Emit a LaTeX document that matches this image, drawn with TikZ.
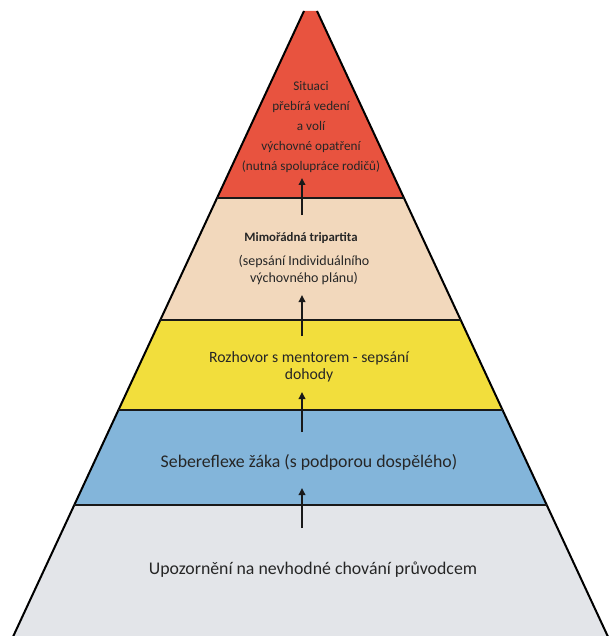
\documentclass[tikz,border=0pt]{standalone}
\usepackage{fontspec}
\setmainfont{Carlito}
\usetikzlibrary{arrows.meta}
\definecolor{cred}{HTML}{E8533F}
\definecolor{ctan}{HTML}{F2D8BC}
\definecolor{cyel}{HTML}{F2DE3C}
\definecolor{cblue}{HTML}{83B5DA}
\definecolor{cgray}{HTML}{E3E5E9}
\definecolor{txt}{HTML}{262626}
\begin{document}
\begin{tikzpicture}[x=1pt,y=-1pt,
  side/.style={draw=black,line width=2pt,line cap=butt},
  sep/.style={draw=black!90,line width=2.5pt},
  arr/.style={draw=black!90,line width=1.8pt,-{Triangle[length=7pt,width=6.5pt]}},
  lbl/.style={text=txt,inner sep=0pt,align=center}]
\useasboundingbox (0,0) rectangle (608,636);
\fill[white] (0,0) rectangle (608,636);
% bands
\fill[cred]  (304,11) -- (317,11) -- (404,198) -- (217,198) -- cycle;
\fill[ctan]  (217,198) -- (404,198) -- (460.7,320) -- (160.3,320) -- cycle;
\fill[cyel]  (160.3,320) -- (460.7,320) -- (502.6,410) -- (118.4,410) -- cycle;
\fill[cblue] (118.4,410) -- (502.6,410) -- (546.8,505) -- (74.2,505) -- cycle;
\fill[cgray] (74.2,505) -- (546.8,505) -- (609.5,640) -- (11.5,640) -- cycle;
% outline
\draw[side] (304,11) -- (11.5,640);
\draw[side] (317,11) -- (609.5,640);
\draw[sep] (217,198) -- (404,198);
\draw[sep] (160.3,320) -- (460.7,320);
\draw[sep] (118.4,410) -- (502.6,410);
\draw[sep] (74.2,505) -- (546.8,505);
% arrows
\coordinate (a1s) at (302,215); \coordinate (a1e) at (302,178);
\coordinate (a2s) at (302,336); \coordinate (a2e) at (302,295);
\coordinate (a3s) at (302,432); \coordinate (a3e) at (302,392);
\coordinate (a4s) at (302,528); \coordinate (a4e) at (302,488);
\draw[arr] (a1s) -- (a1e);
\draw[arr] (a2s) -- (a2e);
\draw[arr] (a3s) -- (a3e);
\draw[arr] (a4s) -- (a4e);
% texts
\node[lbl,font=\fontsize{13.2}{20}\selectfont] (t5) at (311,127)
  {Situaci\\přebírá vedení\\a volí\\výchovné opatření\\(nutná spolupráce rodičů)};
\node[lbl,font=\bfseries\fontsize{12.8}{15}\selectfont] (t4a) at (301,238) {Mimořádná tripartita};
\node[lbl,font=\fontsize{14}{16.5}\selectfont] (t4b) at (304,270)
  {(sepsání Individuálního\\výchovného plánu)};
\node[lbl,font=\fontsize{15.7}{17}\selectfont] (t3) at (309,366.5)
  {Rozhovor s mentorem - sepsání\\dohody};
\node[lbl,font=\fontsize{17.8}{20}\selectfont] (t2) at (309,462)
  {Sebereflexe žáka (s podporou dospělého)};
\node[lbl,font=\fontsize{17.8}{20}\selectfont] (t1) at (313,570)
  {Upozornění na nevhodné chování průvodcem};
\end{tikzpicture}
\end{document}
